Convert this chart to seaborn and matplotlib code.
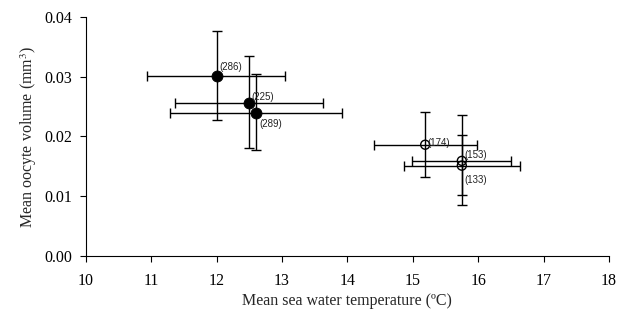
import matplotlib
matplotlib.use("Agg")
import matplotlib.pyplot as plt
import pandas as pd
import seaborn as sns

# Mean temperature / oocyte volume per sample, with ranges
labels = ["(286)", "(225)", "(289)", "(174)", "(153)", "(133)"]
temp = [12.0, 12.49, 12.61, 15.19, 15.75, 15.75]
temp_lo = [10.94, 11.36, 11.28, 14.40, 14.99, 14.86]
temp_hi = [13.05, 13.62, 13.91, 15.98, 16.50, 16.64]
volume = [0.0301, 0.0255, 0.0239, 0.0186, 0.0159, 0.0151]
vol_lo = [0.0228, 0.0180, 0.0177, 0.0132, 0.0085, 0.0102]
vol_hi = [0.0377, 0.0334, 0.0304, 0.0241, 0.0235, 0.0202]
group = ["filled", "filled", "filled", "open", "open", "open"]
label_dy = [0.0015, 0.0010, -0.0018, 0.0003, 0.0010, -0.0024]

df = pd.DataFrame({
    "temp": temp, "volume": volume, "group": group, "label": labels,
    "xlo": temp_lo, "xhi": temp_hi, "ylo": vol_lo, "yhi": vol_hi,
})

sns.set_style("ticks")
plt.rcParams["font.family"] = ["Liberation Serif", "DejaVu Serif"]
plt.rcParams["mathtext.fontset"] = "stix"

fig, ax = plt.subplots(figsize=(6.22, 3.16), dpi=100)
fig.subplots_adjust(left=0.138, right=0.979, top=0.947, bottom=0.19)

# error bars
ax.errorbar(
    df["temp"], df["volume"],
    xerr=[df["temp"] - df["xlo"], df["xhi"] - df["temp"]],
    yerr=[df["volume"] - df["ylo"], df["yhi"] - df["volume"]],
    fmt="none", ecolor="black", elinewidth=1.0, capsize=3.5, capthick=1.0,
    zorder=2,
)

filled = df[df["group"] == "filled"]
hollow = df[df["group"] == "open"]
sns.scatterplot(data=filled, x="temp", y="volume", ax=ax, s=62,
                color="black", edgecolor="black", zorder=3)
sns.scatterplot(data=hollow, x="temp", y="volume", ax=ax, s=42,
                facecolor="none", edgecolor="black", linewidth=1.0, zorder=3)

for t, v, lab, dy in zip(temp, volume, labels, label_dy):
    ax.text(t + 0.04, v + dy, lab, fontsize=7, family="Liberation Sans",
            color="#222222", va="center", ha="left")

ax.set_xlim(10, 18)
ax.set_ylim(0, 0.04)
ax.set_xticks(range(10, 19))
ax.set_yticks([0.0, 0.01, 0.02, 0.03, 0.04])
ax.set_yticklabels(["0.00", "0.01", "0.02", "0.03", "0.04"])
ax.tick_params(labelsize=11.5, direction="out", length=4, width=0.8,
               colors="black", pad=6)
ax.tick_params(axis="x", pad=8)
for s in ["left", "bottom"]:
    ax.spines[s].set_linewidth(0.8)
    ax.spines[s].set_color("black")
sns.despine(ax=ax)

ax.set_xlabel("Mean sea water temperature (ºC)", fontsize=11.5, labelpad=3)
ax.set_ylabel("Mean oocyte volume (mm$^3$)", fontsize=11.5)

fig.savefig("out.png", dpi=100)
